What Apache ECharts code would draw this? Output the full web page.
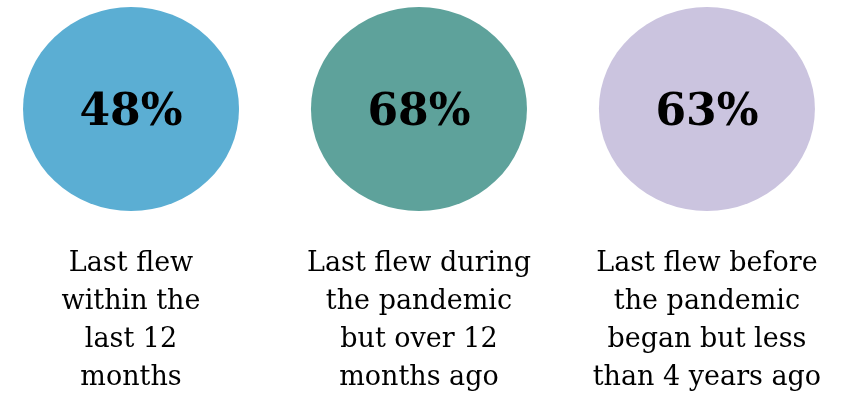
<!DOCTYPE html>
<html>
<head>
<meta charset="utf-8">
<script src="https://cdn.jsdelivr.net/npm/echarts@6/dist/echarts.min.js"></script>
<style>
  html, body { margin: 0; padding: 0; background: #ffffff; }
  #chart { width: 846px; height: 395px; }
</style>
</head>
<body>
<div id="chart"></div>
<script>
// Share of travellers, grouped by when they last flew
const categories = [
  'Last flew\nwithin the\nlast 12\nmonths',
  'Last flew during\nthe pandemic\nbut over 12\nmonths ago',
  'Last flew before\nthe pandemic\nbegan but less\nthan 4 years ago'
];
const shares = [48, 68, 63];
const colors = ['#5baed3', '#5ea29b', '#cbc4df'];
const rowName = ['share'];

const chart = echarts.init(document.getElementById('chart'), null, { renderer: 'canvas' });

chart.setOption({
  animation: false,
  backgroundColor: '#ffffff',
  grid: { left: 0, right: 0, top: 7, height: 204, containLabel: false },
  // one slot per group, spaced evenly across the page
  xAxis: {
    type: 'value',
    min: -0.455,
    max: 2.483,
    show: false
  },
  yAxis: {
    type: 'category',
    data: rowName,
    show: false
  },
  series: [
    {
      name: 'ellipses',
      type: 'scatter',
      symbol: 'circle',
      symbolSize: [216, 204],
      data: shares.map((v, i) => ({
        value: [i, 0, v],
        itemStyle: { color: colors[i], opacity: 1 }
      })),
      label: {
        show: true,
        position: 'inside',
        offset: [0, 5],
        formatter: p => p.value[2] + '%',
        color: '#000000',
        fontFamily: 'DejaVu Serif',
        fontWeight: 'bold',
        fontSize: 44
      },
      emphasis: { disabled: true }
    },
    {
      name: 'captions',
      type: 'scatter',
      symbol: 'circle',
      symbolSize: [216, 204],
      itemStyle: { color: 'rgba(0,0,0,0)', opacity: 1 },
      data: shares.map((v, i) => [i, 0, v]),
      label: {
        show: true,
        position: 'bottom',
        distance: 34,
        formatter: p => categories[p.dataIndex],
        color: '#000000',
        fontFamily: 'DejaVu Serif',
        fontSize: 27,
        lineHeight: 38,
        align: 'center'
      },
      emphasis: { disabled: true },
      silent: true
    }
  ]
});
</script>
</body>
</html>
